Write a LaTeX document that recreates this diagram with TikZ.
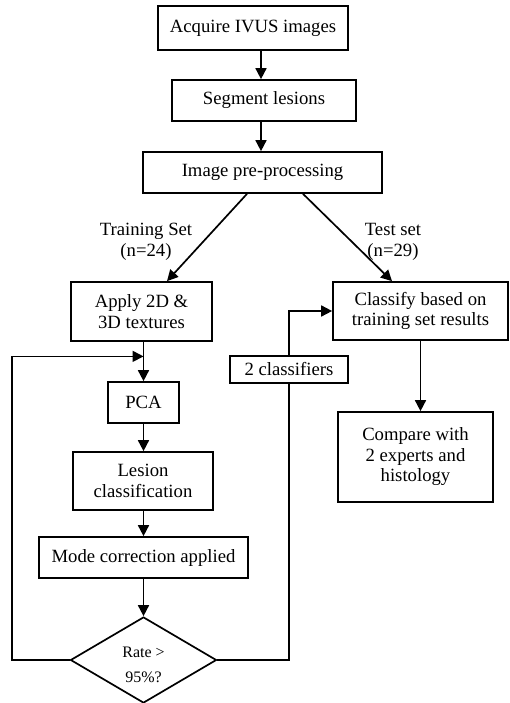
\documentclass[tikz,border=0pt]{standalone}
\usepackage{fontspec}
\setmainfont{Liberation Serif}
\usetikzlibrary{arrows.meta,shapes.geometric,calc}

\begin{document}
\begin{tikzpicture}[x=1pt, y=-1pt,
    box/.style={draw, line width=1.7pt, inner sep=2pt, align=center,
                font=\fontsize{18.7}{20.5}\selectfont},
    lbl/.style={align=center, font=\fontsize{18.7}{20.5}\selectfont},
    arr/.style={line width=1.7pt, -{Triangle[length=11pt,width=11pt]}},
    wire/.style={line width=1.7pt}]

\useasboundingbox (0,0) rectangle (509,703);

% top of the flow
\node [box, minimum width=190pt, minimum height=44pt] (acq) at (253,28)   {Acquire IVUS images};
\node [box, minimum width=184pt, minimum height=41pt] (seg) at (264,100.5) {Segment lesions};
\node [box, minimum width=239pt, minimum height=41pt] (pre) at (262.5,172.5) {Image pre-processing};

% the two sets
\node [lbl] (train) at (146,242) {Training Set\\(n=24)};
\node [lbl] (test)  at (393,242) {Test set\\(n=29)};

% training branch
\node [box, minimum width=141pt, minimum height=59pt] (apply)  at (141.5,311.5) {Apply 2D \&\\3D textures};
\node [box, minimum width=71pt,  minimum height=41pt] (pca)    at (143.5,402.5) {PCA};
\node [box, minimum width=140pt, minimum height=58pt] (lesion) at (143,481)     {Lesion\\classification};
\node [box, minimum width=209pt, minimum height=41pt] (mode)   at (143.5,557.5) {Mode correction applied};
\node [box, diamond, aspect=1.7, inner sep=0pt, minimum width=146pt, minimum height=86pt,
       label={[align=center, font=\fontsize{16}{25}\selectfont, yshift=-4.5pt]center:Rate >\\95\%?}] (rate) at (143.5,660) {};

% test branch
\node [box, minimum width=175pt, minimum height=58pt] (classify) at (420.5,311) {Classify based on\\training set results};
\node [box, minimum width=118pt, minimum height=27pt] (twocls)   at (289,369.5) {2 classifiers};
\node [box, minimum width=155pt, minimum height=90pt] (compare)  at (415.5,457) {Compare with\\2 experts and\\histology};

% arrows down the middle
\draw [arr] ([xshift=8pt]acq.south) -- ([xshift=8pt]acq.south |- seg.north);
\draw [arr] ([xshift=-3pt]seg.south) -- ([xshift=-3pt]seg.south |- pre.north);
\draw [arr] ([xshift=-15.5pt]pre.south) -- ([xshift=25.5pt]apply.north);
\draw [arr] ([xshift=40.5pt]pre.south) -- ([xshift=-28.5pt]classify.north);

% training loop
\draw [arr] (apply.south -| pca.north) -- (pca.north);
\coordinate (join) at ($(apply.south -| pca.north)!0.37!(pca.north)$);
\draw [arr] (pca.south) -- (pca.south |- lesion.north);
\draw [arr] (lesion.south -| mode.north) -- (mode.north);
\draw [arr] (mode.south) -- (mode.south |- rate.north);
\draw [arr] (rate.west) -- ++(-58,0) |- (join);

% to the test set
\draw [wire] (rate.east) -| (twocls.south);
\draw [arr] (twocls.north) |- (classify.west);
\draw [arr] (classify.south) -- (classify.south |- compare.north);

\end{tikzpicture}
\end{document}
